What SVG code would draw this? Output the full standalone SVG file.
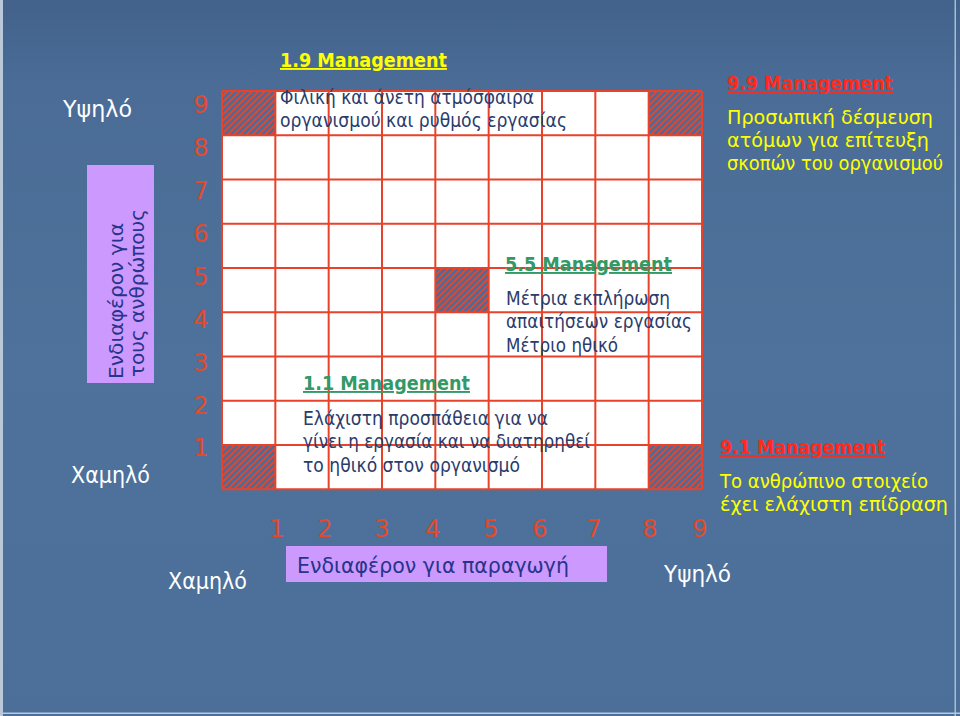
<svg xmlns="http://www.w3.org/2000/svg" width="960" height="716" viewBox="0 0 960 716">
<defs>
<linearGradient id="bg" x1="0" y1="0" x2="0" y2="1">
<stop offset="0" stop-color="#42628b"/>
<stop offset="0.12" stop-color="#4a6c96"/>
<stop offset="0.5" stop-color="#4e729b"/>
<stop offset="1" stop-color="#4b6f98"/>
</linearGradient>
<pattern id="hatch" patternUnits="userSpaceOnUse" width="4.4" height="4.4" patternTransform="rotate(45)">
<rect width="4.4" height="4.4" fill="#4a6a9c"/>
<rect width="2" height="4.4" fill="#e2472b"/>
</pattern>
<style>
.t{font-family:"DejaVu Sans","Noto Sans",sans-serif;}
.body{font-size:19px;fill:#2a3c6c;}
.yel{font-size:19px;fill:#ffff00;}
.ttl{font-size:19px;font-weight:bold;text-decoration:underline;}
.num{font-size:24px;fill:#e24a2c;text-anchor:middle;}
.ax{font-size:23px;fill:#ffffff;}
.pur{fill:#cc99ff;}
.ptxt{fill:#26348a;}
.gl{stroke:#e8432a;stroke-width:2;fill:none;}
</style>
</defs>
<rect width="960" height="716" fill="url(#bg)"/>
<rect x="0" y="0" width="3" height="716" fill="#b9c9da"/>
<rect x="954.5" y="0" width="1.5" height="716" fill="#a9bdd2"/>
<rect x="0" y="712.5" width="960" height="1.5" fill="#b9c9da"/>

<g id="grid">
<rect x="222" y="91" width="480" height="398.25" fill="#ffffff"/>
<rect x="222" y="91" width="53.33" height="44.25" fill="url(#hatch)"/>
<rect x="648.67" y="91" width="53.33" height="44.25" fill="url(#hatch)"/>
<rect x="435.33" y="268" width="53.33" height="44.25" fill="url(#hatch)"/>
<rect x="222" y="445" width="53.33" height="44.25" fill="url(#hatch)"/>
<rect x="648.67" y="445" width="53.33" height="44.25" fill="url(#hatch)"/>
<path class="gl" d="M222 91V489.25M275.33 91V489.25M328.67 91V489.25M382 91V489.25M435.33 91V489.25M488.67 91V489.25M542 91V489.25M595.33 91V489.25M648.67 91V489.25M702 91V489.25M222 91H702M222 135.25H702M222 179.5H702M222 223.75H702M222 268H702M222 312.25H702M222 356.5H702M222 400.75H702M222 445H702M222 489.25H702"/>
</g>

<g id="y-axis">
<text class="t ax" x="63" y="117" textLength="69" lengthAdjust="spacingAndGlyphs">Υψηλό</text>
<text class="t ax" x="71" y="483" textLength="79" lengthAdjust="spacingAndGlyphs">Χαμηλό</text>
<text class="t num" x="201" y="113">9</text>
<text class="t num" x="201" y="156">8</text>
<text class="t num" x="201" y="199">7</text>
<text class="t num" x="201" y="242">6</text>
<text class="t num" x="201" y="285">5</text>
<text class="t num" x="201" y="328">4</text>
<text class="t num" x="201" y="371">3</text>
<text class="t num" x="201" y="414">2</text>
<text class="t num" x="201" y="456">1</text>
</g>

<g id="y-label">
<rect class="pur" x="87" y="165" width="67" height="218"/>
<text class="t ptxt" font-size="20" transform="translate(123,379) rotate(-90)" textLength="156" lengthAdjust="spacingAndGlyphs">Ενδιαφέρον για</text>
<text class="t ptxt" font-size="20" transform="translate(144,377) rotate(-90)" textLength="168" lengthAdjust="spacingAndGlyphs">τους ανθρώπους</text>
</g>

<g id="x-axis">
<text class="t num" x="277" y="537">1</text>
<text class="t num" x="325" y="537">2</text>
<text class="t num" x="382" y="537">3</text>
<text class="t num" x="433" y="537">4</text>
<text class="t num" x="491" y="537">5</text>
<text class="t num" x="540" y="537">6</text>
<text class="t num" x="594" y="537">7</text>
<text class="t num" x="650" y="537">8</text>
<text class="t num" x="700" y="537">9</text>
<text class="t ax" x="168" y="589" textLength="79" lengthAdjust="spacingAndGlyphs">Χαμηλό</text>
<text class="t ax" x="664" y="582" textLength="67" lengthAdjust="spacingAndGlyphs">Υψηλό</text>
</g>

<g id="x-label">
<rect class="pur" x="286" y="546" width="321" height="36"/>
<text class="t ptxt" font-size="22" x="297" y="573" textLength="272" lengthAdjust="spacingAndGlyphs">Ενδιαφέρον για παραγωγή</text>
</g>

<g id="m19">
<text class="t ttl" fill="#ffff00" x="280" y="67" textLength="167" lengthAdjust="spacingAndGlyphs">1.9 Management</text>
<text class="t body" x="280" y="104" textLength="254" lengthAdjust="spacingAndGlyphs">Φιλική και άνετη ατμόσφαιρα</text>
<text class="t body" x="280" y="127" textLength="287" lengthAdjust="spacingAndGlyphs">οργανισμού και ρυθμός εργασίας</text>
</g>

<g id="m55">
<text class="t ttl" fill="#339966" x="505" y="271" textLength="167" lengthAdjust="spacingAndGlyphs">5.5 Management</text>
<text class="t body" x="506" y="305" textLength="164" lengthAdjust="spacingAndGlyphs">Μέτρια εκπλήρωση</text>
<text class="t body" x="506" y="328" textLength="186" lengthAdjust="spacingAndGlyphs">απαιτήσεων εργασίας</text>
<text class="t body" x="506" y="352" textLength="112" lengthAdjust="spacingAndGlyphs">Μέτριο ηθικό</text>
</g>

<g id="m11">
<text class="t ttl" fill="#339966" x="303" y="390" textLength="167" lengthAdjust="spacingAndGlyphs">1.1 Management</text>
<text class="t body" x="303" y="425" textLength="245" lengthAdjust="spacingAndGlyphs">Ελάχιστη προσπάθεια για να</text>
<text class="t body" x="303" y="448" textLength="287" lengthAdjust="spacingAndGlyphs">γίνει η εργασία και να διατηρηθεί</text>
<text class="t body" x="303" y="472" textLength="217" lengthAdjust="spacingAndGlyphs">το ηθικό στον οργανισμό</text>
</g>

<g id="m99">
<text class="t ttl" fill="#ff2a1a" x="727" y="90" textLength="166" lengthAdjust="spacingAndGlyphs">9.9 Management</text>
<text class="t yel" x="727" y="124" textLength="206" lengthAdjust="spacingAndGlyphs">Προσωπική δέσμευση</text>
<text class="t yel" x="727" y="147" textLength="202" lengthAdjust="spacingAndGlyphs">ατόμων για επίτευξη</text>
<text class="t yel" x="727" y="170" textLength="216" lengthAdjust="spacingAndGlyphs">σκοπών του οργανισμού</text>
</g>

<g id="m91">
<text class="t ttl" fill="#ff2a1a" x="720" y="454" textLength="165" lengthAdjust="spacingAndGlyphs">9.1 Management</text>
<text class="t yel" x="720" y="488" textLength="208" lengthAdjust="spacingAndGlyphs">Το ανθρώπινο στοιχείο</text>
<text class="t yel" x="720" y="511" textLength="228" lengthAdjust="spacingAndGlyphs">έχει ελάχιστη επίδραση</text>
</g>
</svg>
